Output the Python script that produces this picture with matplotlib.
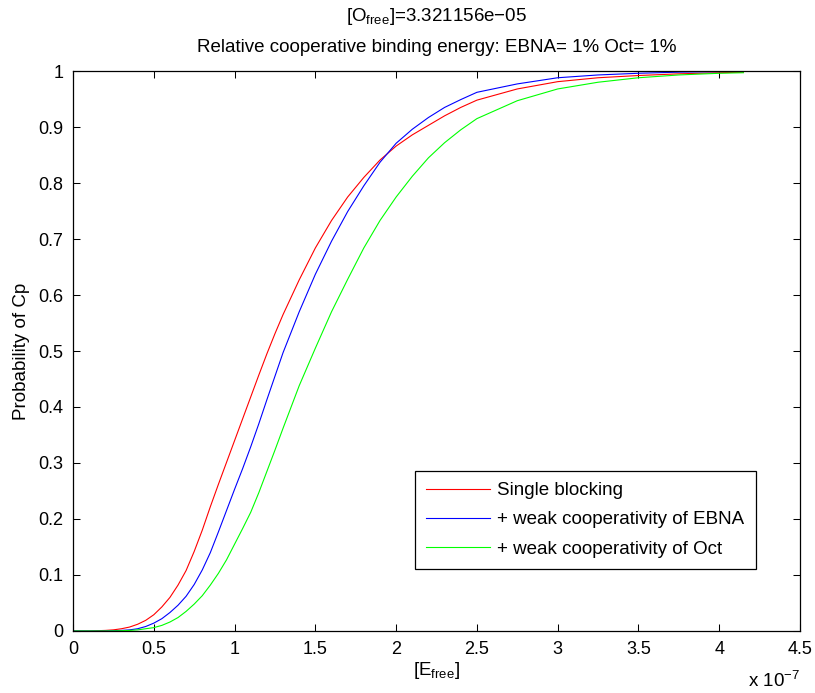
import matplotlib
matplotlib.use('Agg')
import matplotlib.pyplot as plt

plt.rcParams['font.family'] = ['Liberation Sans', 'DejaVu Sans']
plt.rcParams['mathtext.fontset'] = 'custom'
plt.rcParams['mathtext.rm'] = 'Liberation Sans'
plt.rcParams['mathtext.it'] = 'Liberation Sans'

# free E concentration (units of 1e-7)
e_free = [0.0, 0.1, 0.2, 0.25, 0.3, 0.35, 0.4, 0.45, 0.5, 0.55,
          0.6, 0.65, 0.7, 0.75, 0.8, 0.85, 0.9, 0.95, 1.0, 1.05,
          1.1, 1.15, 1.2, 1.25, 1.3, 1.4, 1.5, 1.6, 1.7, 1.8,
          1.9, 2.0, 2.1, 2.2, 2.3, 2.4, 2.5, 2.75, 3.0, 3.25,
          3.5, 3.75, 4.0, 4.15]

# probability of Cp for each model
p_single = [0.0, 0.0, 0.001, 0.002, 0.004, 0.007, 0.012, 0.019, 0.029, 0.043,
            0.06, 0.082, 0.108, 0.142, 0.18, 0.222, 0.262, 0.301, 0.34, 0.379,
            0.418, 0.457, 0.495, 0.531, 0.565, 0.627, 0.684, 0.733, 0.775, 0.81,
            0.841, 0.866, 0.886, 0.903, 0.92, 0.935, 0.948, 0.968, 0.981, 0.988,
            0.992, 0.995, 0.997, 0.998]
p_ebna = [0.0, 0.0, 0.0, 0.0005, 0.001, 0.002, 0.004, 0.008, 0.014, 0.022,
          0.033, 0.046, 0.062, 0.083, 0.109, 0.14, 0.177, 0.215, 0.253, 0.29,
          0.329, 0.37, 0.413, 0.455, 0.497, 0.57, 0.637, 0.696, 0.749, 0.795,
          0.837, 0.871, 0.896, 0.917, 0.935, 0.949, 0.962, 0.977, 0.988, 0.993,
          0.996, 0.998, 0.999, 0.9993]
p_oct = [0.0, 0.0, 0.0, 0.0002, 0.0005, 0.001, 0.002, 0.004, 0.006, 0.01,
         0.016, 0.024, 0.035, 0.048, 0.063, 0.082, 0.103, 0.127, 0.155, 0.183,
         0.212, 0.247, 0.285, 0.323, 0.362, 0.438, 0.505, 0.57, 0.628, 0.684,
         0.733, 0.775, 0.812, 0.845, 0.872, 0.895, 0.915, 0.947, 0.968, 0.98,
         0.988, 0.993, 0.996, 0.997]

labels = ['Single blocking', '+ weak cooperativity of EBNA', '+ weak cooperativity of Oct']
colors = ['#ff0000', '#0000ff', '#00ff00']

fig = plt.figure(figsize=(8.15, 6.93), dpi=100)
ax = fig.add_axes([0.0896, 0.0895, 0.892, 0.808])

for p, lab, c in zip([p_single, p_ebna, p_oct], labels, colors):
    ax.plot(e_free, p, color=c, lw=0.8, label=lab)

ax.set_xlim(0, 4.5)
ax.set_ylim(0, 1)
ax.set_xticks([0, 0.5, 1, 1.5, 2, 2.5, 3, 3.5, 4, 4.5])
ax.set_xticklabels(['0', '0.5', '1', '1.5', '2', '2.5', '3', '3.5', '4', '4.5'])
ax.set_yticks([i / 10 for i in range(11)])
ax.set_yticklabels(['0', '0.1', '0.2', '0.3', '0.4', '0.5', '0.6', '0.7', '0.8', '0.9', '1'])
ax.tick_params(direction='in', top=True, right=True, length=5, width=0.75,
               labelsize=13, pad=7)
for s in ax.spines.values():
    s.set_linewidth(0.9)

ax.set_xlabel(r'[E$_{\mathrm{free}}$]', fontsize=13.5, labelpad=2)
ax.set_ylabel('Probability of Cp', fontsize=13.5, labelpad=6)
ax.text(1.0, -0.072, r'x 10$^{-7}$', transform=ax.transAxes, ha='right',
        va='top', fontsize=13.5)

ax.text(0.5, 1 + 50 / 560, r'[O$_{\mathrm{free}}$]=3.321156e$-$05',
        transform=ax.transAxes, ha='center', va='baseline', fontsize=13.5)
ax.text(0.5, 1 + 19 / 560, 'Relative cooperative binding energy: EBNA= 1% Oct= 1%',
        transform=ax.transAxes, ha='center', va='baseline', fontsize=13.5)

leg = ax.legend(loc='lower left', bbox_to_anchor=(0.470, 0.1107), fontsize=13.5,
                fancybox=False, edgecolor='black', framealpha=1,
                handlelength=3.4, labelspacing=0.65, borderpad=0.6,
                handletextpad=0.4, borderaxespad=0)
leg.get_frame().set_linewidth(0.9)

fig.savefig('out.png', dpi=100)
